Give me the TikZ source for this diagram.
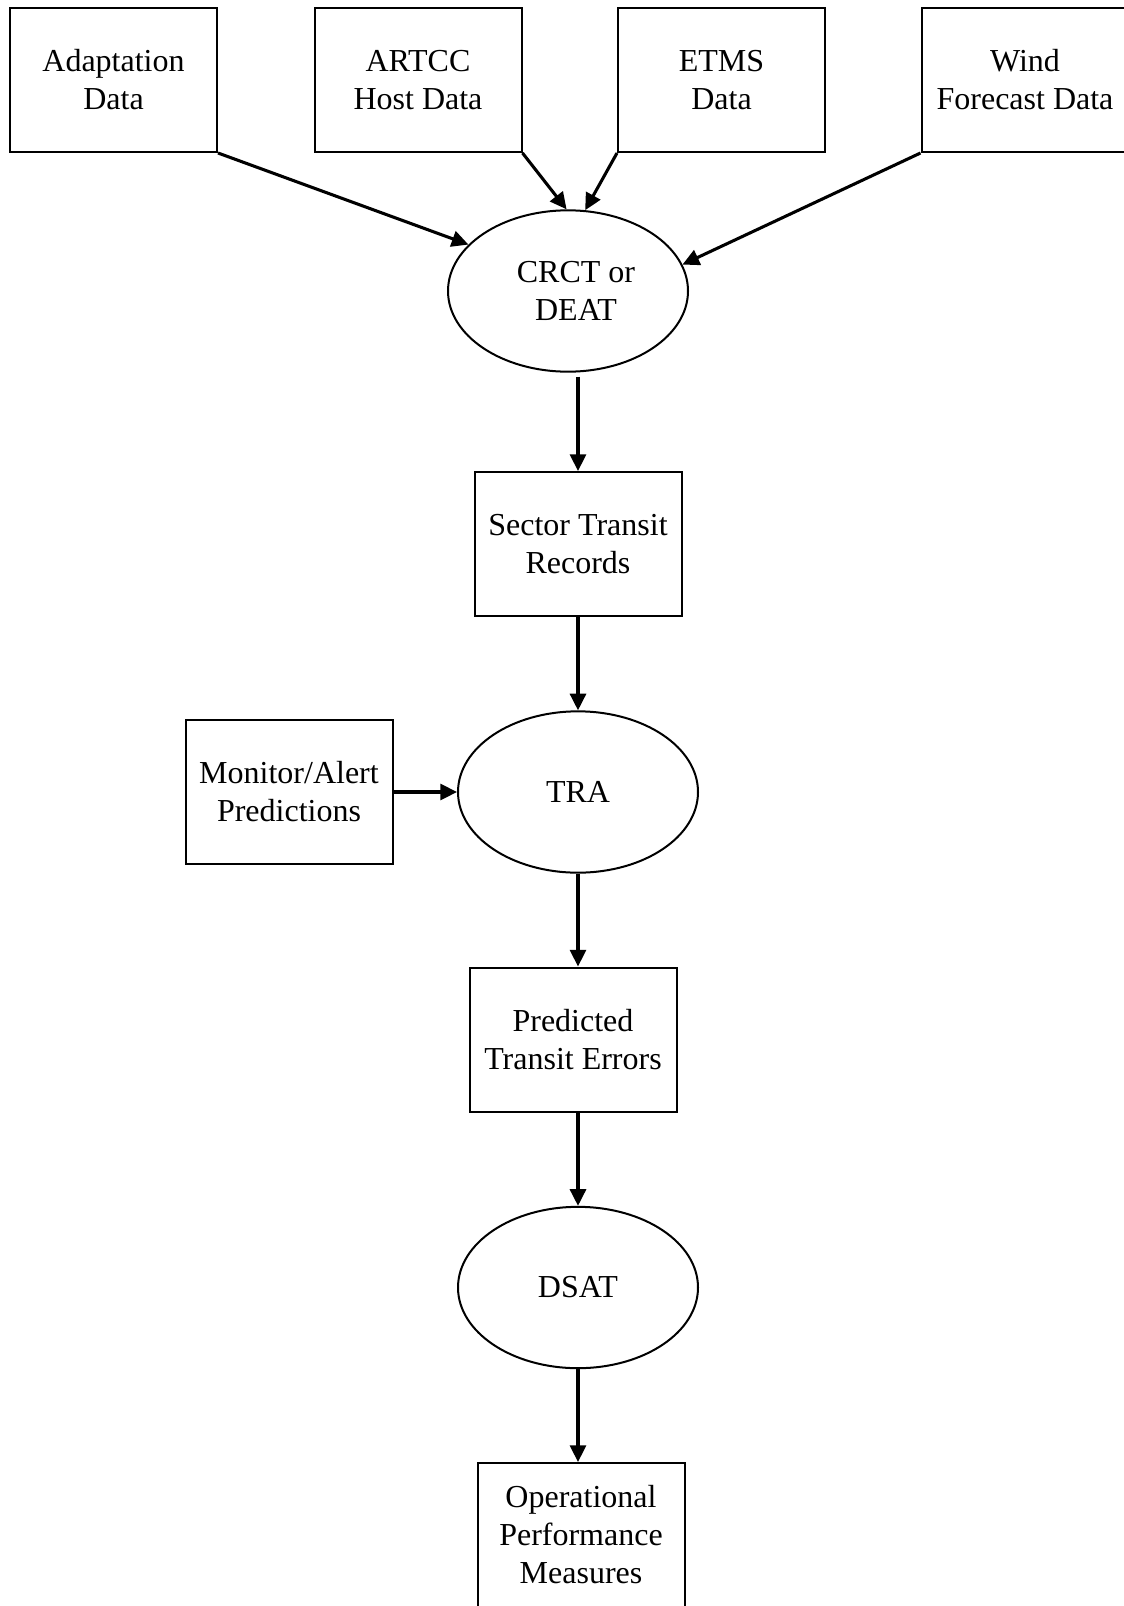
\documentclass[tikz,border=0pt]{standalone}
\usepackage{fontspec}
\setmainfont{Liberation Serif}
\usetikzlibrary{shapes.geometric,arrows.meta}
\begin{document}
\begin{tikzpicture}[x=0.75pt,y=-0.75pt,
  every node/.style={font=\fontsize{24}{28.5}\selectfont, align=center, inner sep=0pt},
  databox/.style={draw, line width=1.5pt, rectangle, minimum width=155.25pt, minimum height=108pt},
  process/.style={draw, line width=1.5pt, ellipse, minimum width=180pt, minimum height=121pt},
  flow/.style={line width=2.3pt, -{Triangle[length=12.5pt,width=12pt]}}]
\useasboundingbox (0,0) rectangle (1124,1606);
\clip (0,0) rectangle (1124,1606);

% input data sources
\node[databox] (adapt) at (113.5,80) {Adaptation\\Data};
\node[databox] (artcc) at (418,80) {ARTCC\\Host Data};
\node[databox] (etms)  at (721.5,80) {ETMS\\Data};
\node[databox] (wind)  at (1025,80) {Wind\\Forecast Data};

% processing chain
\node[process] (crct)   at (568,291) {};
\node (crcttext)        at (576,291) {CRCT or\\DEAT};
\node[databox] (sector) at (578,544) {Sector Transit\\Records};
\node[databox] (monitor) at (289,792) {Monitor/Alert\\Predictions};
\node[process] (tra)    at (578,792) {TRA};
\node[databox] (pred)   at (573,1039.5) {Predicted\\Transit Errors};
\node[process] (dsat)   at (578,1287.5) {DSAT};
\node[databox] (oper)   at (581,1535) {Operational\\Performance\\Measures};

% connectors
\draw[flow] (adapt.south east) -- (crct.155);
\draw[flow] (artcc.south east) -- (crct.91);
\draw[flow] (etms.south west) -- (crct.78);
\draw[flow] (wind.south west) -- (crct.13);
\draw[flow, shorten <=3pt] (crct.south -| sector.north) -- (sector.north);
\draw[flow] (sector.south) -- (tra.north);
\draw[flow] (monitor.east) -- (tra.west);
\draw[flow] (tra.south) -- (tra.south |- pred.north);
\draw[flow] (dsat.north |- pred.south) -- (dsat.north);
\draw[flow] (dsat.south) -- (dsat.south |- oper.north);
\end{tikzpicture}
\end{document}
